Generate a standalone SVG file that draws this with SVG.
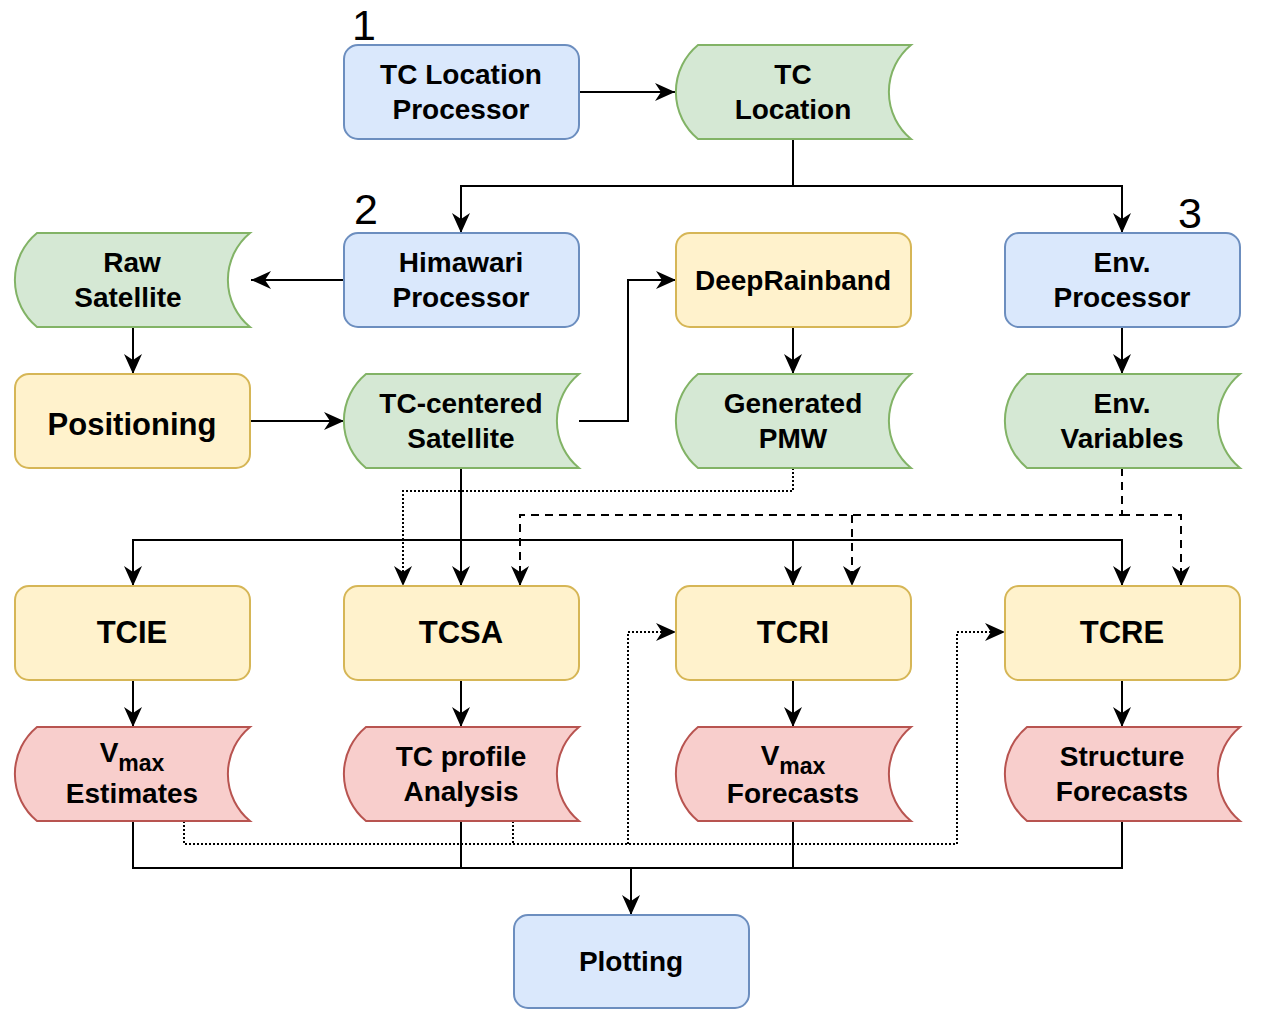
<svg xmlns="http://www.w3.org/2000/svg" width="1288" height="1009" viewBox="0 0 1288 1009">
<defs>
<style>
.blue{fill:#dae8fc;stroke:#6c8ebf;stroke-width:2}
.green{fill:#d5e8d4;stroke:#82b366;stroke-width:2}
.yellow{fill:#fff2cc;stroke:#d6b656;stroke-width:2}
.red{fill:#f8cecc;stroke:#b85450;stroke-width:2}
.t{font-family:"Liberation Sans",Arial,Helvetica,sans-serif;font-weight:bold;font-size:28px;fill:#000;text-anchor:middle}
.big{font-size:31px}
.sub{font-size:23px}
.num{font-family:"Liberation Sans",Arial,sans-serif;font-size:43px;fill:#000;text-anchor:middle}
.e{fill:none;stroke:#000;stroke-width:2}
.dot{stroke-dasharray:2 2}
.dash{stroke-dasharray:8 6}
</style>
<marker id="arr" markerUnits="userSpaceOnUse" markerWidth="21" markerHeight="20" refX="20" refY="9" orient="auto" overflow="visible">
<path d="M0,0 L20,9 L0,18 L6,9 z" fill="#000" stroke="none"/>
</marker>
</defs>
<rect width="1288" height="1009" fill="#fff"/>

<g id="labels">
<text class="num" x="364" y="40">1</text>
<text class="num" x="366" y="224">2</text>
<text class="num" x="1190" y="228">3</text>
</g>

<g id="connectors">
<path class="e" d="M579,92 H675" marker-end="url(#arr)"/>
<path class="e" d="M793,139 V186 H461 V233" marker-end="url(#arr)"/>
<path class="e" d="M793,186 H1122 V233" marker-end="url(#arr)"/>
<path class="e" d="M344,280 H251" marker-end="url(#arr)"/>
<path class="e" d="M133,327 V374" marker-end="url(#arr)"/>
<path class="e" d="M250,421 H344" marker-end="url(#arr)"/>
<path class="e" d="M579,421 H628 V280 H676" marker-end="url(#arr)"/>
<path class="e" d="M793,327 V374" marker-end="url(#arr)"/>
<path class="e" d="M1122,327 V374" marker-end="url(#arr)"/>
<path class="e" d="M461,468 V586" marker-end="url(#arr)"/>
<path class="e" d="M461,540 H133 V586" marker-end="url(#arr)"/>
<path class="e" d="M461,540 H1122 V586" marker-end="url(#arr)"/>
<path class="e" d="M793,540 V586" marker-end="url(#arr)"/>
<path class="e dot" d="M793,468 V491 H403 V586" marker-end="url(#arr)"/>
<path class="e dash" d="M1122,468 V515 H520 V586" marker-end="url(#arr)"/>
<path class="e dash" d="M852,515 V586" marker-end="url(#arr)"/>
<path class="e dash" d="M1122,515 H1181 V586" marker-end="url(#arr)"/>
<path class="e" d="M133,680 V727" marker-end="url(#arr)"/>
<path class="e" d="M461,680 V727" marker-end="url(#arr)"/>
<path class="e" d="M793,680 V727" marker-end="url(#arr)"/>
<path class="e" d="M1122,680 V727" marker-end="url(#arr)"/>
<path class="e dot" d="M184,821 V844 H957 V632 H1005" marker-end="url(#arr)"/>
<path class="e dot" d="M513,821 V844"/>
<path class="e dot" d="M628,844 V632 H676" marker-end="url(#arr)"/>
<path class="e" d="M133,821 V868 H1122 V821"/>
<path class="e" d="M461,821 V868"/>
<path class="e" d="M793,821 V868"/>
<path class="e" d="M631,868 V915" marker-end="url(#arr)"/>
</g>

<g id="tc-location-processor">
<rect class="blue" x="344" y="45" width="235" height="94" rx="14"/>
<text class="t" x="461" y="84">TC Location</text>
<text class="t" x="461" y="119">Processor</text>
</g>
<g id="tc-location">
<path class="green" d="M698,45 H911 A61,61 0 0 0 911,139 H698 A61,61 0 0 1 698,45 z"/>
<text class="t" x="793" y="84">TC</text>
<text class="t" x="793" y="119">Location</text>
</g>
<g id="raw-satellite">
<path class="green" d="M37,233 H250 A61,61 0 0 0 250,327 H37 A61,61 0 0 1 37,233 z"/>
<text class="t" x="132" y="272">Raw</text>
<text class="t" x="128" y="307">Satellite</text>
</g>
<g id="himawari-processor">
<rect class="blue" x="344" y="233" width="235" height="94" rx="14"/>
<text class="t" x="461" y="272">Himawari</text>
<text class="t" x="461" y="307">Processor</text>
</g>
<g id="deeprainband">
<rect class="yellow" x="676" y="233" width="235" height="94" rx="14"/>
<text class="t" x="793" y="290">DeepRainband</text>
</g>
<g id="env-processor">
<rect class="blue" x="1005" y="233" width="235" height="94" rx="14"/>
<text class="t" x="1122" y="272">Env.</text>
<text class="t" x="1122" y="307">Processor</text>
</g>
<g id="positioning">
<rect class="yellow" x="15" y="374" width="235" height="94" rx="14"/>
<text class="t big" x="132" y="435">Positioning</text>
</g>
<g id="tc-centered-satellite">
<path class="green" d="M366,374 H579 A61,61 0 0 0 579,468 H366 A61,61 0 0 1 366,374 z"/>
<text class="t" x="461" y="413">TC-centered</text>
<text class="t" x="461" y="448">Satellite</text>
</g>
<g id="generated-pmw">
<path class="green" d="M698,374 H911 A61,61 0 0 0 911,468 H698 A61,61 0 0 1 698,374 z"/>
<text class="t" x="793" y="413">Generated</text>
<text class="t" x="793" y="448">PMW</text>
</g>
<g id="env-variables">
<path class="green" d="M1027,374 H1240 A61,61 0 0 0 1240,468 H1027 A61,61 0 0 1 1027,374 z"/>
<text class="t" x="1122" y="413">Env.</text>
<text class="t" x="1122" y="448">Variables</text>
</g>
<g id="tcie">
<rect class="yellow" x="15" y="586" width="235" height="94" rx="14"/>
<text class="t big" x="132" y="643">TCIE</text>
</g>
<g id="tcsa">
<rect class="yellow" x="344" y="586" width="235" height="94" rx="14"/>
<text class="t big" x="461" y="643">TCSA</text>
</g>
<g id="tcri">
<rect class="yellow" x="676" y="586" width="235" height="94" rx="14"/>
<text class="t big" x="793" y="643">TCRI</text>
</g>
<g id="tcre">
<rect class="yellow" x="1005" y="586" width="235" height="94" rx="14"/>
<text class="t big" x="1122" y="643">TCRE</text>
</g>
<g id="vmax-estimates">
<path class="red" d="M37,727 H250 A61,61 0 0 0 250,821 H37 A61,61 0 0 1 37,727 z"/>
<text class="t" x="132" y="762">V<tspan class="sub" dy="9">max</tspan></text>
<text class="t" x="132" y="803">Estimates</text>
</g>
<g id="tc-profile-analysis">
<path class="red" d="M366,727 H579 A61,61 0 0 0 579,821 H366 A61,61 0 0 1 366,727 z"/>
<text class="t" x="461" y="766">TC profile</text>
<text class="t" x="461" y="801">Analysis</text>
</g>
<g id="vmax-forecasts">
<path class="red" d="M698,727 H911 A61,61 0 0 0 911,821 H698 A61,61 0 0 1 698,727 z"/>
<text class="t" x="793" y="765">V<tspan class="sub" dy="9">max</tspan></text>
<text class="t" x="793" y="803">Forecasts</text>
</g>
<g id="structure-forecasts">
<path class="red" d="M1027,727 H1240 A61,61 0 0 0 1240,821 H1027 A61,61 0 0 1 1027,727 z"/>
<text class="t" x="1122" y="766">Structure</text>
<text class="t" x="1122" y="801">Forecasts</text>
</g>
<g id="plotting">
<rect class="blue" x="514" y="915" width="235" height="93" rx="14"/>
<text class="t" x="631" y="971">Plotting</text>
</g>
</svg>
